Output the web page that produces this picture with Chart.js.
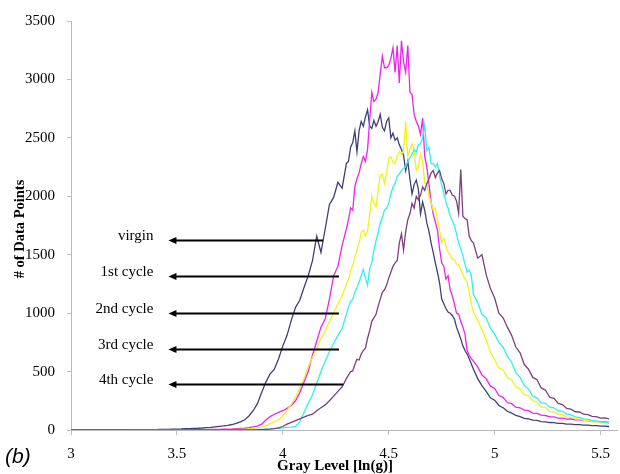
<!DOCTYPE html>
<html><head><meta charset="utf-8">
<script src="https://cdn.jsdelivr.net/npm/chart.js@4.4.0/dist/chart.umd.min.js"></script>
<style>html,body{margin:0;padding:0;background:#fff}#wrap{position:relative;width:620px;height:474px}</style>
</head><body><div id="wrap"><canvas id="c" width="620" height="474"></canvas></div>
<script>
// Gray level bins ln(g): 0.02 apart in the tails, 0.01 apart around the peaks
const grayLevels=[3.00,3.02,3.04,3.06,3.08,3.10,3.12,3.14,3.16,3.18,3.20,3.22,3.24,3.26,3.28,3.30,3.32,3.34,3.36,3.38,3.40,
3.42,3.44,3.46,3.48,3.50,3.52,3.54,3.56,3.58,
3.60,3.62,3.64,3.66,3.68,3.70,3.72,3.74,3.76,3.78,
3.80,3.82,3.84,3.86,3.88,3.90,3.92,3.94,3.96,3.98,
4.00,4.02,4.04,4.06,4.08,4.10,4.12,4.14,4.16,4.18,
4.20,4.22,4.24,4.26,4.28,
4.30,4.31,4.32,4.33,4.34,4.35,4.36,4.37,4.38,4.39,
4.40,4.41,4.42,4.43,4.44,4.45,4.46,4.47,4.48,4.49,
4.50,4.51,4.52,4.53,4.54,4.55,4.56,4.57,4.58,4.59,
4.60,4.61,4.62,4.63,4.64,4.65,4.66,4.67,4.68,4.69,
4.70,4.71,4.72,4.73,4.74,4.75,4.76,4.77,4.78,4.79,
4.80,4.81,4.82,4.83,4.84,4.85,4.86,4.87,4.88,4.89,4.90,
4.92,4.94,4.96,4.98,5.00,5.02,5.04,5.06,5.08,5.10,5.12,5.14,5.16,5.18,
5.20,5.22,5.24,5.26,5.28,5.30,5.32,5.34,5.36,5.38,5.40,5.42,5.44,5.46,5.48,5.50,5.52,5.54];

const virgin=[0,0,0,0,0,1,0,1,1,0,1,1,2,1,2,2,3,2,3,4,4,
5,5,6,7,8,9,11,12,14,
15,17,20,23,27,31,35,40,47,57,
70,88,120,165,225,320,410,480,520,610,
720,810,940,1050,1110,1220,1320,1450,1660,1520,
1720,1930,1990,2120,2070,
2280,2300,2420,2460,2560,2380,2560,2640,2600,2680,
2740,2600,2580,2650,2600,2640,2700,2590,2560,2640,
2670,2500,2540,2480,2500,2440,2400,2350,2220,2300,
2150,2020,2100,2140,2060,1850,1950,1880,1770,1700,
1600,1520,1430,1350,1260,1120,1080,1040,1010,1000,
980,950,880,830,780,720,680,650,610,565,520,
440,380,330,275,255,210,190,160,145,125,115,100,95,84,
82,72,70,64,63,56,57,51,50,46,46,42,41,37,37,33,33,30];

const cycle1=[0,0,0,0,0,0,0,0,0,0,0,0,0,0,0,0,0,1,0,1,1,
1,1,1,2,2,2,2,3,3,
3,4,4,5,5,6,7,8,9,11,
13,15,20,26,33,50,85,115,135,150,
165,185,210,250,320,410,500,640,760,880,
950,1120,1320,1400,1580,
1720,1800,1900,1880,2080,2150,2200,2280,2340,2300,
2400,2650,2890,2810,2830,2890,3050,3200,3100,3100,
3120,3180,3270,3060,3290,2970,3330,3150,3060,3290,
2890,2870,2700,2640,2600,2530,2670,2340,2250,2100,
1950,1850,1780,1710,1550,1430,1400,1290,1320,1200,
1150,1080,1000,990,930,880,820,680,640,610,590,
540,470,440,375,355,295,280,235,225,195,190,170,165,145,
142,127,124,112,112,102,102,93,94,86,87,80,80,73,74,68,70,65];

const cycle2=[0,0,0,0,0,0,0,0,0,0,0,0,0,0,0,0,0,0,0,0,0,
0,0,0,0,0,0,0,1,1,
1,1,1,2,2,2,3,4,5,5,
6,8,10,14,18,25,38,55,70,85,
120,170,220,280,360,440,540,620,700,780,
850,930,1000,1080,1150,
1250,1290,1360,1410,1480,1540,1600,1690,1710,1660,
1700,1850,2000,1940,1910,2050,2180,2190,2110,2200,
2320,2340,2290,2280,2350,2380,2360,2390,2640,2340,
2400,2450,2400,2220,2250,2360,2300,2110,2110,2000,
1950,1880,1900,1800,1710,1600,1640,1580,1520,1500,
1460,1460,1420,1410,1375,1330,1290,1265,1180,1080,1010,
940,860,770,665,600,530,515,450,430,370,350,300,295,250,
240,195,192,160,155,135,130,112,110,95,94,82,82,70,71,62,63,58];

const cycle3=[0,0,0,0,0,0,0,0,0,0,0,0,0,0,0,0,0,0,0,0,0,
0,0,0,0,0,0,0,0,0,
0,0,0,0,0,1,1,1,1,2,
2,3,3,4,5,6,8,10,12,15,
18,22,25,30,70,150,230,300,400,500,
590,670,740,810,870,
990,1050,1100,1120,1180,1220,1265,1320,1375,1300,
1240,1380,1430,1540,1620,1690,1770,1820,1880,1900,
1940,2020,2080,2110,2170,2190,2220,2240,2250,2300,
2330,2360,2400,2380,2440,2450,2500,2610,2390,2420,
2280,2280,2250,2280,2170,2100,2020,1950,1900,1830,
1790,1750,1680,1600,1550,1490,1420,1350,1370,1320,1160,
1090,990,960,870,820,750,710,630,580,490,450,380,350,290,
275,232,228,195,190,165,160,136,132,112,108,95,93,80,78,68,67,60];

const cycle4=[0,0,0,0,0,0,0,0,0,0,0,0,0,0,0,0,0,0,0,0,0,
0,0,0,0,0,0,0,0,0,
0,0,0,0,0,0,0,0,0,0,
0,0,1,1,2,4,6,8,12,18,
30,50,65,80,95,110,125,135,165,190,
215,250,290,330,370,
440,470,500,505,560,605,600,650,680,700,
785,850,930,960,990,1060,1120,1180,1200,1240,
1300,1350,1400,1430,1450,1600,1680,1540,1700,1800,
1850,1940,1900,2000,1970,2010,2080,2050,2110,2150,
2200,2220,2160,2200,2220,2150,2110,2020,2050,2050,
2010,2000,1960,1855,2230,1830,1810,1800,1660,1620,1600,
1470,1500,1330,1210,1130,1000,960,880,810,710,660,560,520,450,
430,360,340,280,270,228,218,185,178,156,154,136,132,116,115,102,103,95];

const seriesNames=['virgin','1st cycle','2nd cycle','3rd cycle','4th cycle'];
const seriesValues=[virgin,cycle1,cycle2,cycle3,cycle4];
const xTicks=[3,3.5,4,4.5,5,5.5];
const yTicks=[0,500,1000,1500,2000,2500,3000,3500];
// annotation arrows (data coordinates)
const arrowLevels=[1630,1320,1000,690,390];
const arrowTipX=3.46;
const arrowTailX=[4.19,4.265,4.265,4.265,4.285];

const colors=['#3f3f78','#ee22ee','#f2f21a','#2ef0f0','#7d3f7d'];

const datasets=seriesValues.map((vals,k)=>({
  label:seriesNames[k],
  data:vals.map((v,i)=>({x:grayLevels[i],y:v})),
  borderColor:colors[k],
  borderWidth:1.3,
  pointRadius:0,
  fill:false,
  tension:0,
  order:5-k
}));

const annot={
  id:'annot',
  afterDatasetsDraw(chart){
    const ctx=chart.ctx, xs=chart.scales.x, ys=chart.scales.y;
    ctx.save();
    for(let i=0;i<arrowLevels.length;i++){
      const y=Math.round(ys.getPixelForValue(arrowLevels[i]))+0.5;
      const x0=xs.getPixelForValue(arrowTipX);
      const x1=xs.getPixelForValue(arrowTailX[i]);
      ctx.strokeStyle='#000';ctx.lineWidth=2;
      ctx.beginPath();ctx.moveTo(x0+5,y);ctx.lineTo(x1,y);ctx.stroke();
      ctx.fillStyle='#000';
      ctx.beginPath();ctx.moveTo(x0,y);ctx.lineTo(x0+8,y-3.5);ctx.lineTo(x0+8,y+3.5);ctx.closePath();ctx.fill();
      ctx.font='15px "Liberation Serif", "Times New Roman", serif';
      ctx.textAlign='right';ctx.textBaseline='middle';
      ctx.fillText(seriesNames[i],x0-15,y-4);
    }
    ctx.fillStyle='#000';
    ctx.font='bold 15px "Liberation Serif", "Times New Roman", serif';
    ctx.textAlign='center';ctx.textBaseline='middle';
    ctx.fillText('Gray Level [ln(g)]',335,466);
    ctx.save();
    ctx.translate(20,229);ctx.rotate(-Math.PI/2);
    ctx.font='bold 14.5px "Liberation Serif", "Times New Roman", serif';
    ctx.fillText('# of Data Points',0,0);
    ctx.restore();
    ctx.font='italic 21px "Liberation Sans", Arial, sans-serif';
    ctx.textAlign='left';
    ctx.fillText('(b)',5,457);
    ctx.restore();
  }
};

new Chart(document.getElementById('c'),{
  type:'line',
  data:{datasets},
  options:{
    responsive:false,devicePixelRatio:1,animation:false,
    layout:{padding:{top:15,right:2,left:0,bottom:0}},
    plugins:{legend:{display:false},tooltip:{enabled:false},title:{display:false}},
    scales:{
      x:{type:'linear',min:3,max:5.58,
        afterBuildTicks(s){s.ticks=xTicks.map(v=>({value:v}));},
        afterFit(s){s.height=44;},
        ticks:{font:{family:'"Liberation Serif", serif',size:15},color:'#000',padding:10,maxRotation:0,autoSkip:false,
          callback:v=>String(v)},
        grid:{display:true,drawOnChartArea:false,drawTicks:true,tickLength:5,color:'#c0c0c0'},
        border:{display:true,color:'#b8b8b8',width:1}
      },
      y:{type:'linear',min:0,max:3500,
        afterBuildTicks(s){s.ticks=yTicks.map(v=>({value:v}));},
        afterFit(s){s.width=71;},
        ticks:{font:{family:'"Liberation Serif", serif',size:15},color:'#000',padding:12,callback:v=>String(v)},
        grid:{display:true,drawOnChartArea:false,drawTicks:true,tickLength:4,color:'#c0c0c0'},
        border:{display:true,color:'#b8b8b8',width:1}
      }
    }
  },
  plugins:[annot]
});
</script></body></html>
